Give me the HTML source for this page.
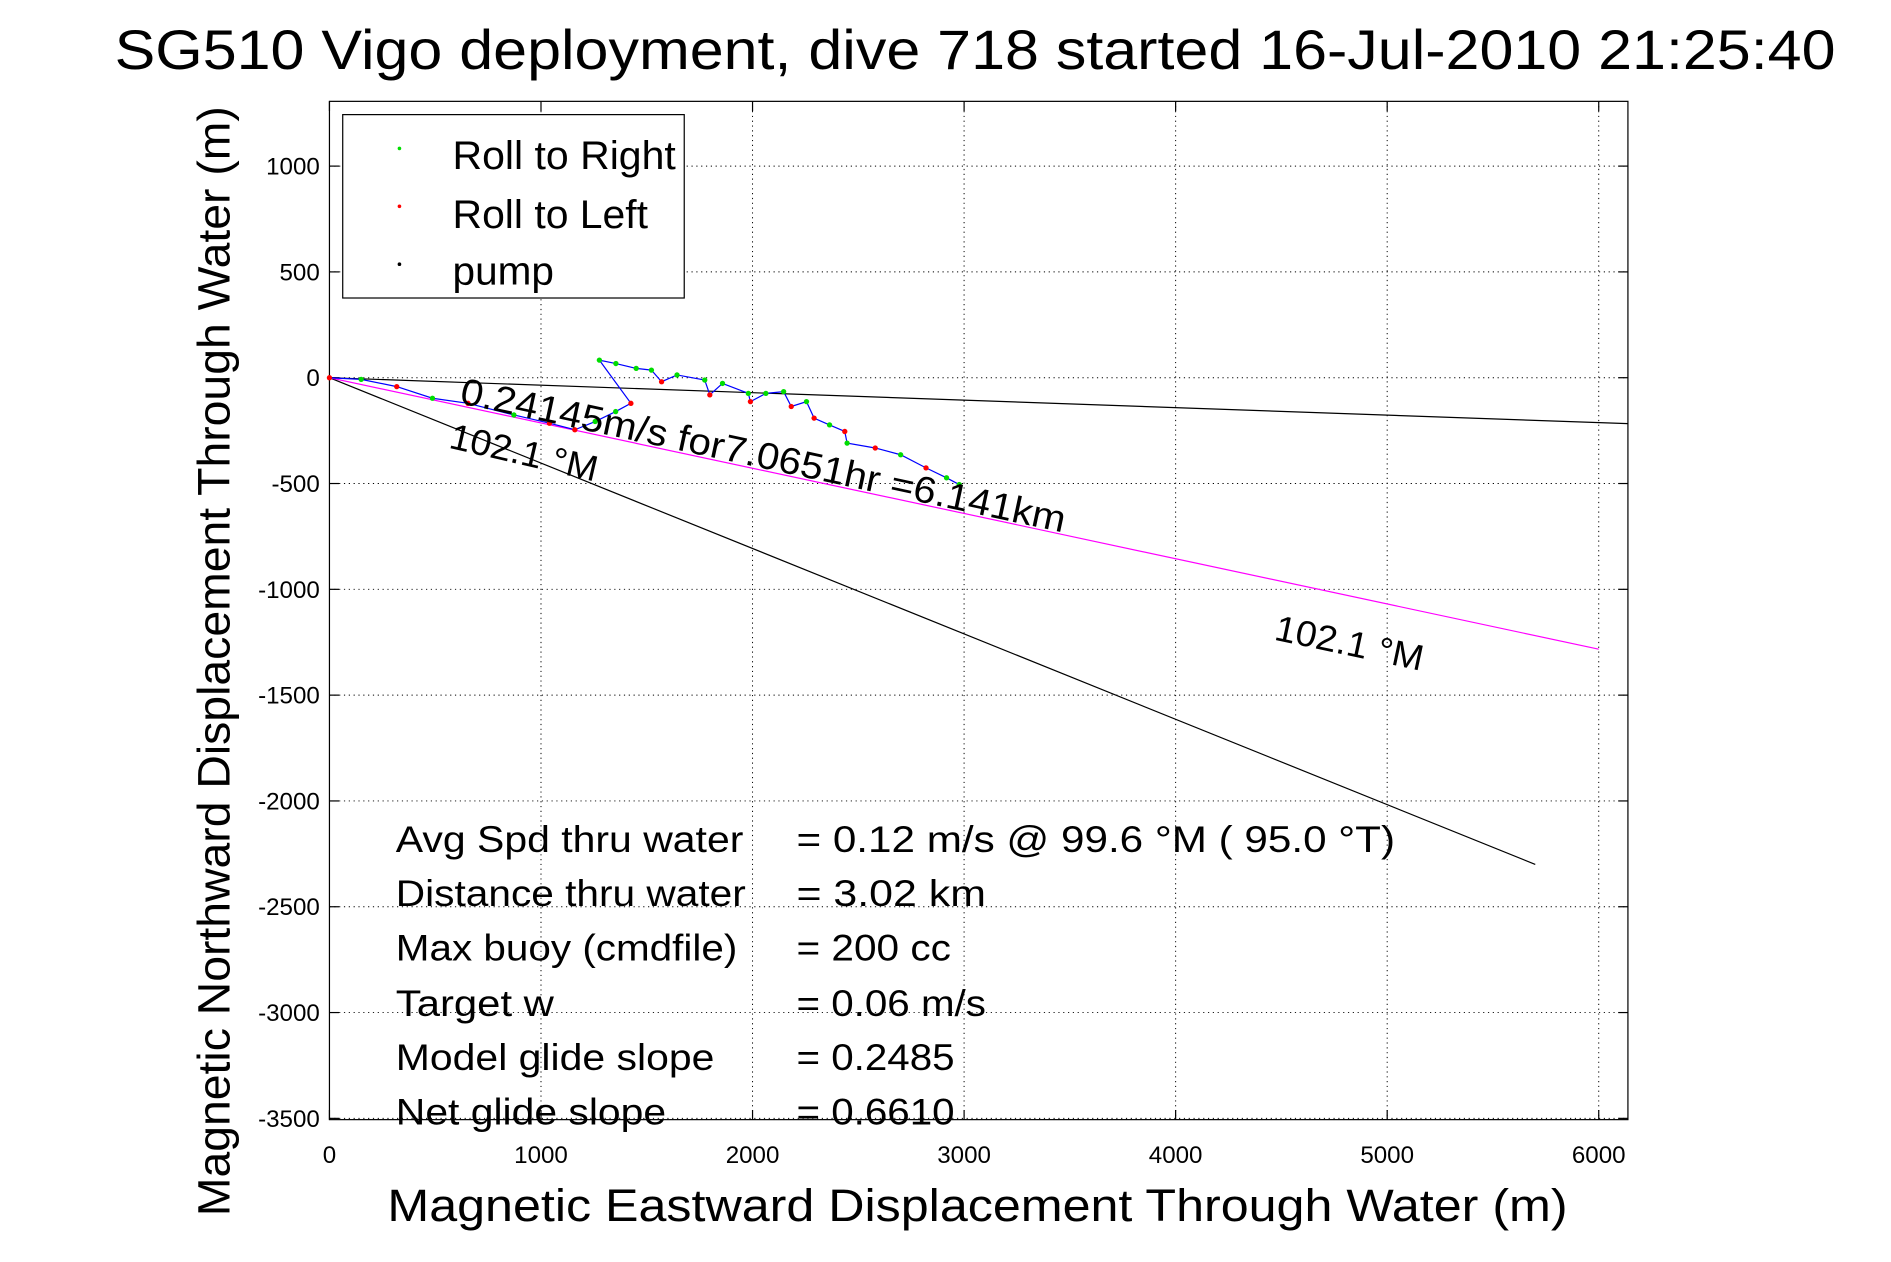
<!DOCTYPE html>
<html><head><meta charset="utf-8"><style>
html,body{margin:0;padding:0;background:#fff;}
svg{display:block;}
text{font-family:"Liberation Sans",sans-serif;fill:#000;}
</style></head><body>
<svg id="chart" width="1891" height="1262" viewBox="0 0 1567 1046" preserveAspectRatio="none" xmlns="http://www.w3.org/2000/svg">
<rect x="0" y="0" width="1567" height="1046" fill="#fff"/>
<text x="808" y="57" font-size="46" text-anchor="middle" textLength="1426" lengthAdjust="spacingAndGlyphs">SG510 Vigo deployment, dive 718 started 16-Jul-2010 21:25:40</text>
<rect x="273" y="84" width="1076" height="844" fill="#fff" stroke="#000" stroke-width="1"/>
<g id="grid"></g>
<g id="ticks"></g>
<g id="lines"></g>
<g id="track"></g>
<text transform="translate(380,334) rotate(12.1)" font-size="31" textLength="512" lengthAdjust="spacingAndGlyphs">0.24145m/s for7.0651hr =6.141km</text>
<text transform="translate(371,371) rotate(13)" font-size="30" textLength="125" lengthAdjust="spacingAndGlyphs">102.1 °M</text>
<text transform="translate(1055,530) rotate(12)" font-size="30" textLength="125" lengthAdjust="spacingAndGlyphs">102.1 °M</text>
<g>
<rect x="284" y="95" width="283" height="152" fill="#fff" stroke="#000" stroke-width="1"/>
<circle cx="331" cy="123" r="1.5" fill="#00dd00"/>
<text x="375" y="140" font-size="33" textLength="185" lengthAdjust="spacingAndGlyphs">Roll to Right</text>
<circle cx="331" cy="171" r="1.5" fill="#ff0000"/>
<text x="375" y="189" font-size="33" textLength="162" lengthAdjust="spacingAndGlyphs">Roll to Left</text>
<circle cx="331" cy="219" r="1.5" fill="#000"/>
<text x="375" y="236" font-size="33" textLength="84" lengthAdjust="spacingAndGlyphs">pump</text>
</g>
<g font-size="31">
<text x="328" y="706" textLength="288" lengthAdjust="spacingAndGlyphs">Avg Spd thru water</text>
<text x="660" y="706" textLength="496" lengthAdjust="spacingAndGlyphs">=  0.12 m/s @  99.6 °M ( 95.0 °T)</text>
<text x="328" y="751" textLength="290" lengthAdjust="spacingAndGlyphs">Distance thru water</text>
<text x="660" y="751" textLength="157" lengthAdjust="spacingAndGlyphs">=  3.02 km</text>
<text x="328" y="796" textLength="283" lengthAdjust="spacingAndGlyphs">Max buoy (cmdfile)</text>
<text x="660" y="796" textLength="128" lengthAdjust="spacingAndGlyphs">= 200 cc</text>
<text x="328" y="842" textLength="131" lengthAdjust="spacingAndGlyphs">Target w</text>
<text x="660" y="842" textLength="157" lengthAdjust="spacingAndGlyphs">= 0.06 m/s</text>
<text x="328" y="887" textLength="264" lengthAdjust="spacingAndGlyphs">Model glide slope</text>
<text x="660" y="887" textLength="131" lengthAdjust="spacingAndGlyphs">= 0.2485</text>
<text x="328" y="932" textLength="224" lengthAdjust="spacingAndGlyphs">Net glide slope</text>
<text x="660" y="932" textLength="131" lengthAdjust="spacingAndGlyphs">= 0.6610</text>
</g>
<text x="810" y="1012" font-size="38" text-anchor="middle" textLength="978" lengthAdjust="spacingAndGlyphs">Magnetic Eastward Displacement Through Water (m)</text>
<text transform="translate(190,548) rotate(-90)" font-size="38" text-anchor="middle" textLength="920" lengthAdjust="spacingAndGlyphs">Magnetic Northward Displacement Through Water (m)</text>
</svg>
<script>
var xTicks = [0,1000,2000,3000,4000,5000,6000];
var yTicks = [1000,500,0,-500,-1000,-1500,-2000,-2500,-3000,-3500];
var trackX = [0,150,318,487,655,872,1040,1160,1256,1353,1425,1276,1354,1450,1522,1570,1643,1774,1798,1858,1980,1990,2063,2147,2183,2255,2291,2364,2436,2447,2580,2700,2820,2917,2977];
var trackY = [0,-8,-42,-97,-121,-176,-215,-246,-207,-160,-121,83,67,44,36,-19,13,-11,-81,-27,-74,-113,-74,-66,-136,-113,-191,-223,-254,-309,-332,-364,-426,-473,-505];
var rollSide = ['L','R','L','R','L','R','L','L','R','R','L','R','R','R','R','L','R','R','L','R','R','L','R','R','L','R','L','R','L','R','L','R','L','R','R'];
var headingLineEnd = [6138,-217];
var courseLineEnd = [5700,-2300];
var magentaLineEnd = [6000,-1283];

var X0=273, X1=1349, Y0=84, Y1=928, XMIN=0, XMAX=6138, YMIN=-3506, YMAX=1306;
function sx(v){return X0+(v-XMIN)/(XMAX-XMIN)*(X1-X0);}
function sy(v){return Y1-(v-YMIN)/(YMAX-YMIN)*(Y1-Y0);}
var NS='http://www.w3.org/2000/svg';
function mk(tag,attrs,parent){var e=document.createElementNS(NS,tag);for(var k in attrs)e.setAttribute(k,attrs[k]);parent.appendChild(e);return e;}
var grid=document.getElementById('grid'), ticks=document.getElementById('ticks'), lines=document.getElementById('lines'), track=document.getElementById('track');
xTicks.forEach(function(t){
  var x=sx(t);
  if(t>0){var g=mk('line',{x1:x,y1:Y0,x2:x,y2:Y1,stroke:'#000','stroke-width':0.8,'stroke-dasharray':'1,3'},grid);
  
  }
  mk('line',{x1:x,y1:Y1,x2:x,y2:Y1-8,stroke:'#000'},ticks);
  mk('line',{x1:x,y1:Y0,x2:x,y2:Y0+8,stroke:'#000'},ticks);
  var tx=mk('text',{x:x,y:Y1+36,'font-size':20,'text-anchor':'middle'},ticks);
  
  
  tx.textContent=t;
});
yTicks.forEach(function(t){
  var y=sy(t);
  var g=mk('line',{x1:X0,y1:y,x2:X1,y2:y,stroke:'#000','stroke-width':0.8,'stroke-dasharray':'1,3'},grid);
  
  
  mk('line',{x1:X0,y1:y,x2:X0+8,y2:y,stroke:'#000'},ticks);
  mk('line',{x1:X1,y1:y,x2:X1-8,y2:y,stroke:'#000'},ticks);
  var tx=mk('text',{x:X0-8,y:y+7,'font-size':20,'text-anchor':'end'},ticks);
  
  
  tx.textContent=t;
});
var l1=mk('line',{x1:sx(0),y1:sy(0),x2:sx(headingLineEnd[0]),y2:sy(headingLineEnd[1]),stroke:'#000','stroke-width':1},lines);


var l2=mk('line',{x1:sx(0),y1:sy(0),x2:sx(courseLineEnd[0]),y2:sy(courseLineEnd[1]),stroke:'#000','stroke-width':1},lines);


var l3=mk('line',{x1:sx(0),y1:sy(0),x2:sx(magentaLineEnd[0]),y2:sy(magentaLineEnd[1]),stroke:'#ff00ff','stroke-width':1},lines);


var pts=trackX.map(function(v,i){return sx(v)+','+sy(trackY[i]);}).join(' ');
var pl=mk('polyline',{points:pts,fill:'none',stroke:'#0000ff','stroke-width':1},track);


trackX.forEach(function(v,i){
  var c=mk('circle',{cx:sx(v),cy:sy(trackY[i]),r:2.2,fill:rollSide[i]==='R'?'#00dd00':'#ff0000'},track);
  
  
});
</script>
</body></html>
